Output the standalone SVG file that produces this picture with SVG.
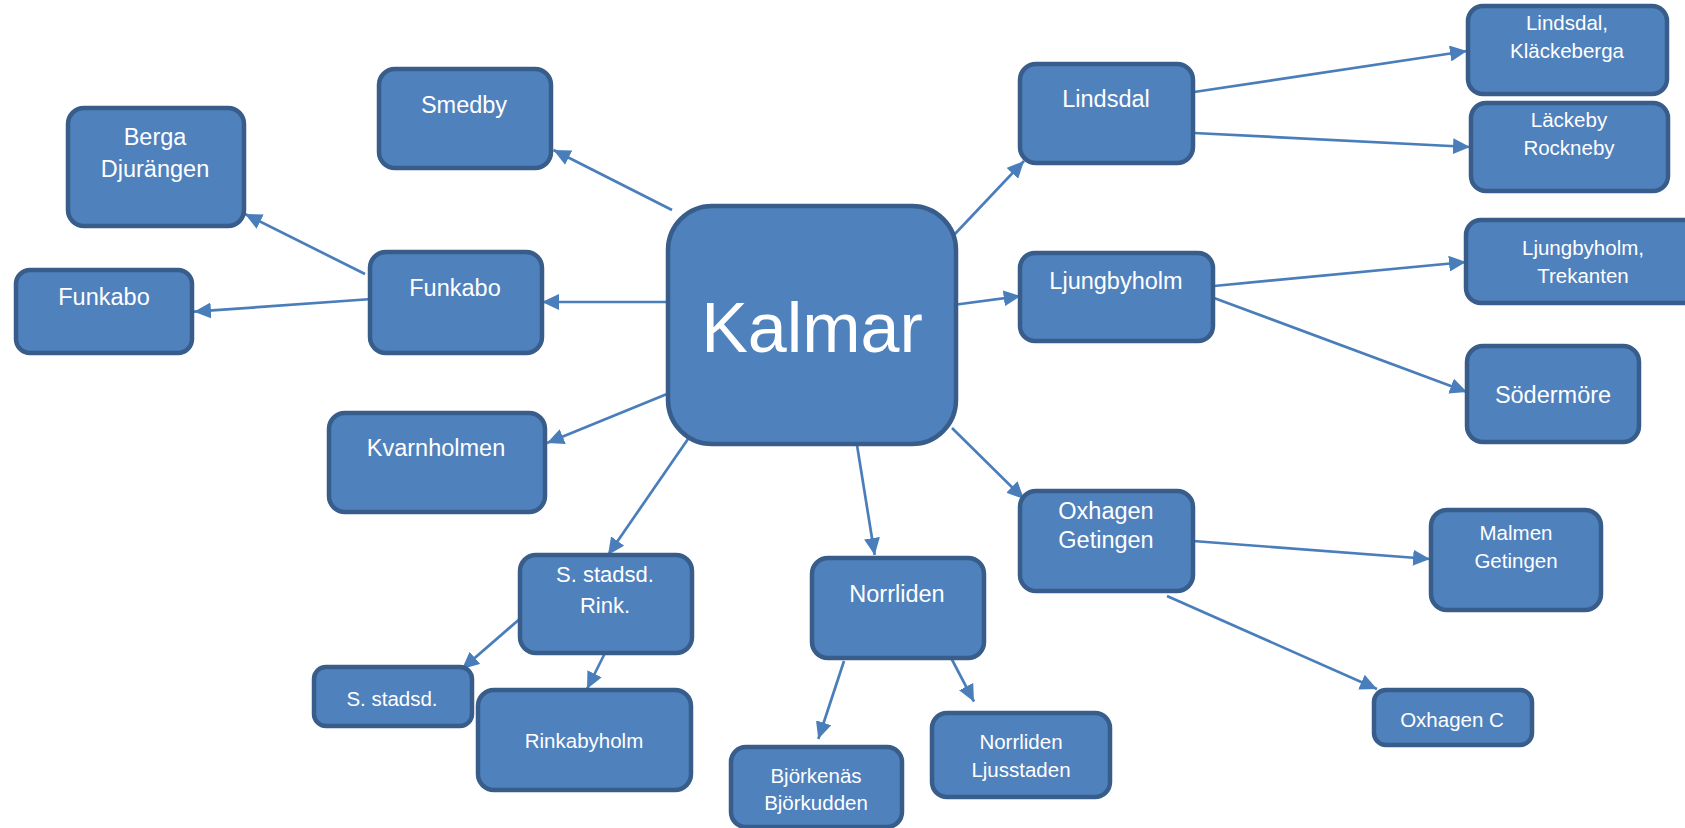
<svg xmlns="http://www.w3.org/2000/svg" width="1685" height="828" viewBox="0 0 1685 828">
<style>
.box{fill:#4F81BD;stroke:#385D8A;stroke-width:4.5}
.lbl{fill:#FFFFFF;font-family:"Liberation Sans",Arial,sans-serif;text-anchor:middle}
.m{font-size:23.5px}
.s{font-size:20.5px}
.con line{stroke:#4A7EBB;stroke-width:2.7;fill:none;marker-end:url(#ah)}
</style>
<defs>
<marker id="ah" viewBox="0 0 17 16" refX="17" refY="8" markerWidth="17" markerHeight="16" markerUnits="userSpaceOnUse" orient="auto">
<path d="M0,0 L17,8 L0,16 z" fill="#4A7EBB"/>
</marker>
</defs>
<rect width="1685" height="828" fill="#FFFFFF"/>
<g id="connectors" class="con">
<line x1="672" y1="210" x2="553.5" y2="150"/>
<line x1="365" y1="274" x2="245" y2="214"/>
<line x1="372" y1="299" x2="194" y2="311.7"/>
<line x1="667" y1="302" x2="542" y2="302"/>
<line x1="667" y1="394" x2="547" y2="443"/>
<line x1="688" y1="439" x2="608" y2="555"/>
<line x1="857" y1="445" x2="874.7" y2="555"/>
<line x1="952" y1="428" x2="1024" y2="499"/>
<line x1="953" y1="236" x2="1024" y2="161"/>
<line x1="953" y1="305" x2="1020.7" y2="296"/>
<line x1="1194" y1="92" x2="1467" y2="51"/>
<line x1="1194" y1="133" x2="1470" y2="147"/>
<line x1="1214" y1="286" x2="1466" y2="262"/>
<line x1="1214" y1="298" x2="1467" y2="392"/>
<line x1="1193" y1="541" x2="1430" y2="559"/>
<line x1="1167" y1="596" x2="1377" y2="689"/>
<line x1="522" y1="617" x2="462" y2="669"/>
<line x1="605" y1="653" x2="587" y2="689"/>
<line x1="844" y1="661" x2="818.3" y2="739"/>
<line x1="950.6" y1="657" x2="974" y2="701.7"/>
</g>
<g id="kalmar"><rect class="box" x="668" y="206" width="288" height="238" rx="44"/><text class="lbl" x="812" y="352" font-size="70">Kalmar</text></g>
<g id="smedby"><rect class="box" x="379" y="69" width="172" height="99" rx="16"/><text class="lbl m" x="464" y="113">Smedby</text></g>
<g id="berga"><rect class="box" x="68" y="108" width="176" height="118" rx="16"/><text class="lbl m" x="155" y="145">Berga</text><text class="lbl m" x="155" y="177">Djurängen</text></g>
<g id="funkabo-left"><rect class="box" x="16" y="270" width="176" height="83" rx="14"/><text class="lbl m" x="104" y="305">Funkabo</text></g>
<g id="funkabo"><rect class="box" x="370" y="252" width="172" height="101" rx="16"/><text class="lbl m" x="455" y="296">Funkabo</text></g>
<g id="kvarnholmen"><rect class="box" x="329" y="413" width="216" height="99" rx="16"/><text class="lbl m" x="436" y="456">Kvarnholmen</text></g>
<g id="lindsdal"><rect class="box" x="1020" y="64" width="173" height="99" rx="16"/><text class="lbl m" x="1106" y="107">Lindsdal</text></g>
<g id="lindsdal-klackeberga"><rect class="box" x="1468" y="6" width="199" height="88" rx="15"/><text class="lbl s" x="1567" y="30">Lindsdal,</text><text class="lbl s" x="1567" y="58">Kläckeberga</text></g>
<g id="lackeby"><rect class="box" x="1471" y="103" width="197" height="88" rx="15"/><text class="lbl s" x="1569" y="127">Läckeby</text><text class="lbl s" x="1569" y="155">Rockneby</text></g>
<g id="ljungbyholm"><rect class="box" x="1020" y="253" width="193" height="88" rx="15"/><text class="lbl m" x="1116" y="289">Ljungbyholm</text></g>
<g id="trekanten"><rect class="box" x="1466" y="220" width="240" height="83" rx="15"/><text class="lbl s" x="1583" y="255">Ljungbyholm,</text><text class="lbl s" x="1583" y="283">Trekanten</text></g>
<g id="sodermore"><rect class="box" x="1467" y="346" width="172" height="96" rx="16"/><text class="lbl m" x="1553" y="403">Södermöre</text></g>
<g id="oxhagen"><rect class="box" x="1020" y="491" width="173" height="100" rx="16"/><text class="lbl m" x="1106" y="519">Oxhagen</text><text class="lbl m" x="1106" y="548">Getingen</text></g>
<g id="malmen"><rect class="box" x="1431" y="510" width="170" height="100" rx="16"/><text class="lbl s" x="1516" y="540">Malmen</text><text class="lbl s" x="1516" y="568">Getingen</text></g>
<g id="oxhagen-c"><rect class="box" x="1374" y="690" width="158" height="55" rx="12"/><text class="lbl s" x="1452" y="727">Oxhagen C</text></g>
<g id="s-stadsd-rink"><rect class="box" x="520" y="555" width="172" height="98" rx="16"/><text class="lbl" x="605" y="582" font-size="22px">S. stadsd.</text><text class="lbl" x="605" y="613" font-size="22px">Rink.</text></g>
<g id="s-stadsd"><rect class="box" x="314" y="667" width="158" height="59" rx="12"/><text class="lbl s" x="392" y="706">S. stadsd.</text></g>
<g id="rinkabyholm"><rect class="box" x="478" y="690" width="213" height="100" rx="16"/><text class="lbl s" x="584" y="748">Rinkabyholm</text></g>
<g id="norrliden"><rect class="box" x="812" y="558" width="172" height="100" rx="16"/><text class="lbl m" x="897" y="602">Norrliden</text></g>
<g id="bjorkenas"><rect class="box" x="731" y="747" width="171" height="80" rx="15"/><text class="lbl s" x="816" y="783">Björkenäs</text><text class="lbl s" x="816" y="810">Björkudden</text></g>
<g id="ljusstaden"><rect class="box" x="932" y="713" width="178" height="84" rx="15"/><text class="lbl s" x="1021" y="749">Norrliden</text><text class="lbl s" x="1021" y="777">Ljusstaden</text></g>
</svg>
